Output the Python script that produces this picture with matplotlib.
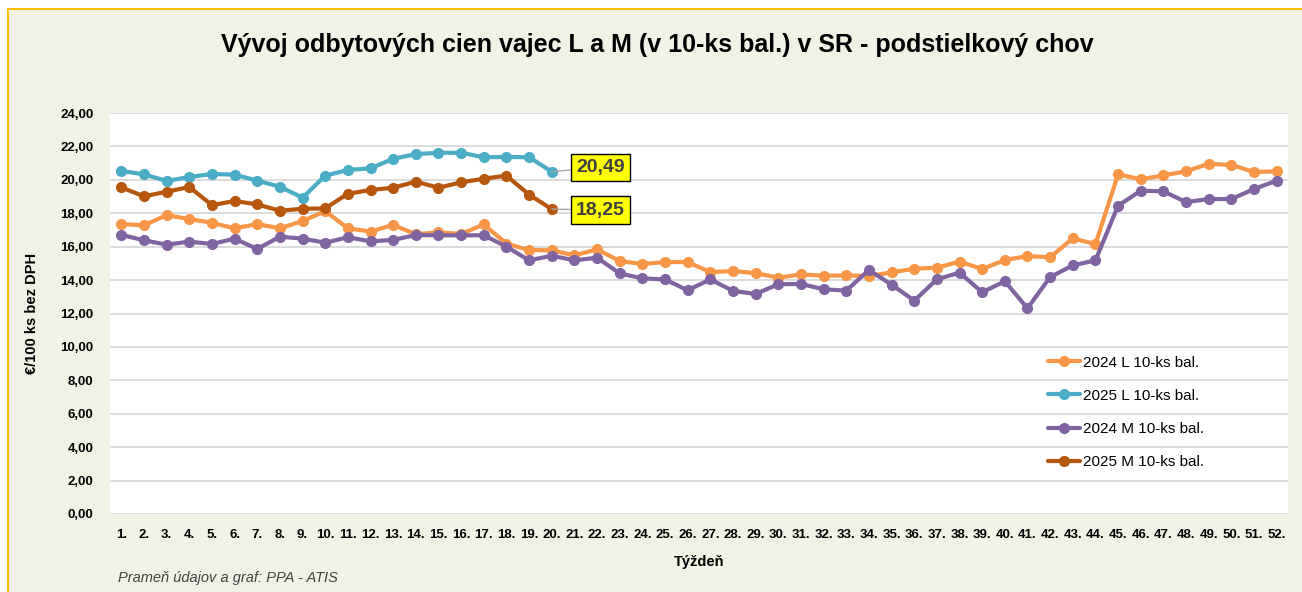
import matplotlib.pyplot as plt
from matplotlib.patches import Rectangle

# week numbers and prices (EUR / 100 pcs excl. VAT)
weeks = list(range(1, 53))
week_labels = [f"{w}." for w in weeks]

l_2024 = [17.35, 17.28, 17.89, 17.65, 17.43, 17.10, 17.35, 17.10, 17.53, 18.13,
          17.10, 16.90, 17.31, 16.74, 16.86, 16.76, 17.33, 16.18, 15.80, 15.78,
          15.48, 15.84, 15.14, 14.96, 15.08, 15.08, 14.48, 14.54, 14.42, 14.14,
          14.34, 14.26, 14.28, 14.24, 14.46, 14.68, 14.74, 15.11, 14.66, 15.20,
          15.44, 15.36, 16.50, 16.15, 20.33, 20.03, 20.27, 20.51, 20.96, 20.89,
          20.47, 20.51]
m_2024 = [16.71, 16.38, 16.12, 16.30, 16.16, 16.48, 15.86, 16.60, 16.48, 16.24,
          16.56, 16.32, 16.40, 16.70, 16.68, 16.68, 16.68, 16.00, 15.18, 15.46,
          15.18, 15.34, 14.40, 14.10, 14.04, 13.39, 14.04, 13.35, 13.17, 13.75,
          13.77, 13.45, 13.37, 14.60, 13.73, 12.77, 14.04, 14.45, 13.27, 13.93,
          12.31, 14.18, 14.88, 15.18, 18.45, 19.35, 19.31, 18.67, 18.85, 18.85,
          19.45, 19.95]
l_2025 = [20.53, 20.33, 19.93, 20.17, 20.35, 20.31, 19.95, 19.59, 18.93, 20.25,
          20.59, 20.69, 21.26, 21.54, 21.62, 21.62, 21.35, 21.37, 21.35, 20.49]
m_2025 = [19.55, 19.01, 19.29, 19.57, 18.49, 18.73, 18.53, 18.15, 18.27, 18.29,
          19.17, 19.39, 19.53, 19.89, 19.53, 19.85, 20.07, 20.25, 19.11, 18.25]

W, H = 1302, 592
fig = plt.figure(figsize=(W / 100, H / 100), dpi=100, facecolor="white")
fig.patches.append(Rectangle((8 / W, -0.1), 1.1, 1.1 - 9 / H,
                             transform=fig.transFigure, facecolor="#F2F1E6",
                             edgecolor="#FFC000", lw=1.5, zorder=-10))

font = ["Liberation Sans Narrow", "Liberation Sans", "DejaVu Sans"]
plt.rcParams["font.family"] = font

ax = fig.add_axes([110 / W, 1 - 514 / H, (1288 - 110) / W, (514 - 113) / H])
ax.set_facecolor("white")

series = [
    (l_2024, "2024 L 10-ks bal.", "#F79646"),
    (l_2025, "2025 L 10-ks bal.", "#4BACC6"),
    (m_2024, "2024 M 10-ks bal.", "#8064A2"),
    (m_2025, "2025 M 10-ks bal.", "#B7560D"),
]
for vals, name, col in series:
    ax.plot(weeks[:len(vals)], vals, color=col, lw=3, marker="o", ms=7,
            label=name, solid_capstyle="round")

ax.set_xlim(0.5, 52.5)
ax.set_ylim(0, 24)
ax.set_yticks(range(0, 25, 2))
ax.set_yticklabels([f"{v:.2f}".replace(".", ",") for v in range(0, 25, 2)])
ax.set_xticks(weeks)
ax.set_xticklabels(week_labels)
ax.tick_params(length=0, labelsize=9.5, colors="black")
ax.tick_params(axis="y", pad=12)
ax.tick_params(axis="x", pad=11)
for lab in ax.get_xticklabels() + ax.get_yticklabels():
    lab.set_fontweight("bold")
ax.yaxis.grid(True, color="#D9D9D9", lw=1.3)
ax.set_axisbelow(True)
for s in ax.spines.values():
    s.set_visible(False)

ax.set_ylabel("€/100 ks bez DPH", fontsize=10.5, fontweight="bold", labelpad=15)
ax.set_xlabel("Týždeň", fontsize=10.5, fontweight="bold", labelpad=10)

# labels on the last 2025 values
for vals, ty in ((l_2025, 20.74), (m_2025, 18.19)):
    last = vals[-1]
    ax.annotate(f"{last:.2f}".replace(".", ","), xy=(len(vals), last),
                xytext=(22.15, ty), ha="center", va="center",
                fontsize=14, fontweight="bold", color="#404040",
                bbox=dict(boxstyle="square,pad=0.28", fc="#FFFF00", ec="black", lw=1),
                arrowprops=dict(arrowstyle="-", color="#A6A6A6", lw=1,
                                shrinkA=0, shrinkB=0))

ax.legend(loc="lower right", bbox_to_anchor=(0.94, 0.078), frameon=False,
          fontsize=11, handlelength=2.1, labelspacing=1.25, handletextpad=0.15)

fig.text(657 / W, 1 - 45 / H,
         "Vývoj odbytových cien vajec L a M (v 10-ks bal.) v SR - podstielkový chov",
         ha="center", va="center", fontsize=18, fontweight="bold")
fig.text(118 / W, 1 - 578 / H, "Prameň údajov a graf: PPA - ATIS",
         ha="left", va="center", fontsize=10.5, style="italic", color="#404040")

fig.savefig("out.png", dpi=100, facecolor=fig.get_facecolor())
